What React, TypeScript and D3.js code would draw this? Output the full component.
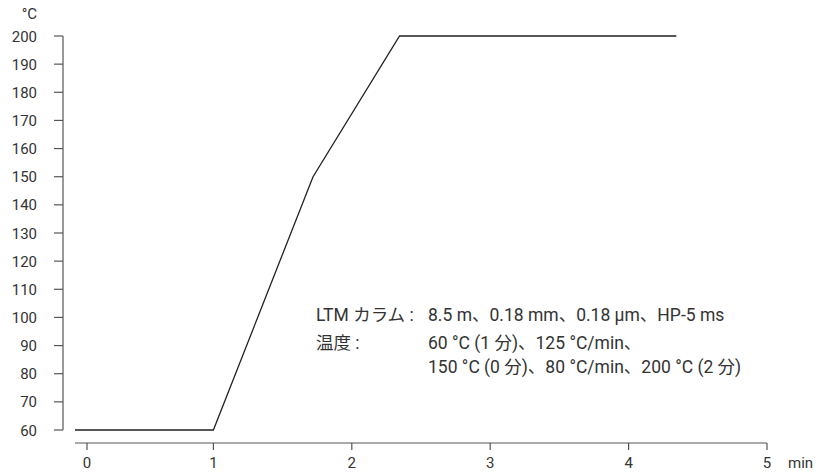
import React, { useEffect, useRef } from 'react';
import * as d3 from 'd3';

// temperature program: time (min) and oven temperature (°C)
const times = [0, 1, 1.72, 2.345, 4.345];
const temps = [60, 60, 150, 200, 200];
const xTicks = [0, 1, 2, 3, 4, 5];
const yTicks = [60, 70, 80, 90, 100, 110, 120, 130, 140, 150, 160, 170, 180, 190, 200];
const noteLines = [
  { label: 'LTM カラム :', text: '8.5 m、0.18 mm、0.18 µm、HP-5 ms' },
  { label: '温度 :', text: '60 °C (1 分)、125 °C/min、' },
  { label: '', text: '150 °C (0 分)、80 °C/min、200 °C (2 分)' },
];

const FONT = 'Roboto, "Noto Sans CJK JP", sans-serif';

const App = () => {
  const ref = useRef<SVGSVGElement>(null);

  useEffect(() => {
    const svg = d3.select(ref.current);
    svg.selectAll('*').remove();

    const x = d3.scaleLinear().domain([0, 5]).range([75, 767]);
    // the "0" tick sits a little right of the axis origin in the original
    const xTickPos = d3.scaleLinear().domain([0, 1, 5]).range([x(0) + 12, x(1), x(5)]);
    const y = d3.scaleLinear().domain([60, 200]).range([430, 36]);
    const ink = '#333';

    // y axis
    const gy = svg.append('g');
    gy.append('line')
      .attr('x1', 63).attr('x2', 63)
      .attr('y1', y(200)).attr('y2', y(60))
      .style('stroke', '#555').style('stroke-width', 1.2);
    gy.selectAll('line.tick').data(yTicks).enter().append('line')
      .attr('class', 'tick')
      .attr('x1', 54).attr('x2', 63)
      .attr('y1', d => y(d)).attr('y2', d => y(d))
      .style('stroke', '#555').style('stroke-width', 1.2);
    gy.selectAll('text').data(yTicks).enter().append('text')
      .attr('x', 37).attr('y', d => y(d) + 5.5)
      .attr('text-anchor', 'end')
      .text(d => d)
      .style('font-family', FONT).style('font-size', '15px').style('fill', ink);
    svg.append('text')
      .attr('x', 37).attr('y', 19)
      .attr('text-anchor', 'end')
      .text('°C')
      .style('font-family', FONT).style('font-size', '15px').style('fill', ink);

    // x axis
    const gx = svg.append('g');
    gx.append('line')
      .attr('x1', x(0)).attr('x2', x(5))
      .attr('y1', 443).attr('y2', 443)
      .style('stroke', '#555').style('stroke-width', 1.2);
    gx.selectAll('line.tick').data(xTicks).enter().append('line')
      .attr('class', 'tick')
      .attr('x1', d => xTickPos(d)).attr('x2', d => xTickPos(d))
      .attr('y1', 443).attr('y2', 450)
      .style('stroke', '#555').style('stroke-width', 1.2);
    gx.selectAll('text').data(xTicks).enter().append('text')
      .attr('x', d => xTickPos(d)).attr('y', 468)
      .attr('text-anchor', 'middle')
      .text(d => d)
      .style('font-family', FONT).style('font-size', '15px').style('fill', ink);
    svg.append('text')
      .attr('x', 788).attr('y', 468)
      .text('min')
      .style('font-family', FONT).style('font-size', '15px').style('fill', ink);

    // temperature line
    const line = d3.line<number>()
      .x((d, i) => x(times[i]))
      .y(d => y(d));
    svg.append('path')
      .datum(temps)
      .attr('d', line)
      .style('fill', 'none')
      .style('stroke', '#222')
      .style('stroke-width', 1.3);

    // conditions note
    const baselines = [321, 349, 373];
    noteLines.forEach((n, i) => {
      svg.append('text')
        .attr('x', 316).attr('y', baselines[i])
        .text(n.label)
        .style('font-family', FONT).style('font-size', '17.5px').style('fill', ink);
      svg.append('text')
        .attr('x', 428).attr('y', baselines[i])
        .text(n.text)
        .style('font-family', FONT).style('font-size', '17.5px').style('fill', ink);
    });
  }, []);

  return (
    <svg ref={ref} width={830} height={473}
      style={{ position: 'absolute', left: 0, top: 0, background: '#fff' }} />
  );
};

export default App;
